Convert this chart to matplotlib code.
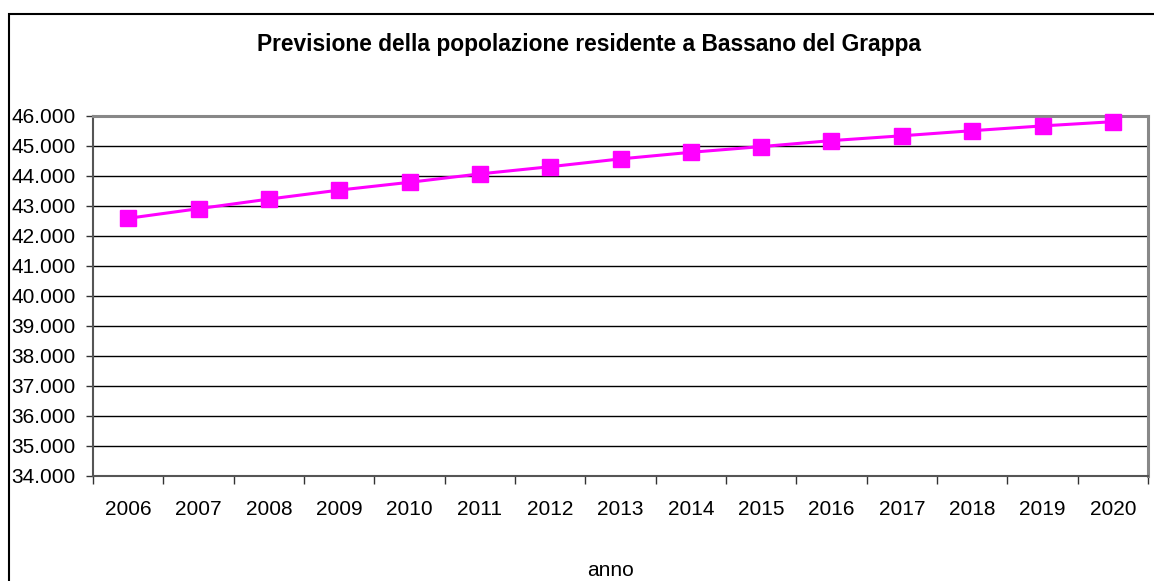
import matplotlib
matplotlib.use("Agg")
import matplotlib.pyplot as plt
from matplotlib.patches import Rectangle
from matplotlib.ticker import FuncFormatter, FixedLocator

years = ["2006", "2007", "2008", "2009", "2010", "2011", "2012", "2013",
         "2014", "2015", "2016", "2017", "2018", "2019", "2020"]
population = [42590, 42910, 43230, 43530, 43790, 44070, 44310, 44570,
              44790, 44980, 45180, 45340, 45510, 45670, 45810]
y_ticks = list(range(34000, 46001, 1000))

plt.rcParams['font.family'] = ['Liberation Sans', 'DejaVu Sans']

fig = plt.figure(figsize=(11.54, 5.81), dpi=100)
ax = fig.add_axes([93/1154, 1 - 476/581, (1148 - 93)/1154, (476 - 116)/581])

x = list(range(len(years)))
ax.plot(x, population, color='#FF00FF', linewidth=2.2, marker='s',
        markersize=11, markerfacecolor='#FF00FF', markeredgecolor='#FF00FF',
        zorder=5, clip_on=False)

ax.set_xlim(-0.5, len(years) - 0.5)
ax.set_ylim(34000, 46000)
ax.yaxis.set_major_locator(FixedLocator(y_ticks))
ax.yaxis.set_major_formatter(FuncFormatter(lambda v, p: f"{int(v):,}".replace(",", ".")))
ax.yaxis.grid(True, color='black', linewidth=1)
ax.set_axisbelow(True)

ax.set_xticks(x)
ax.set_xticklabels(years)
ax.set_xticks([i - 0.5 for i in range(len(years) + 1)], minor=True)
ax.tick_params(axis='x', which='major', length=0, pad=17, labelsize=15)
ax.tick_params(axis='x', which='minor', length=6, width=1, color='#333333', direction='out')
ax.tick_params(axis='y', which='major', length=5, width=1, color='#333333',
               labelsize=15, pad=7.5, direction='out')

for s in ['top', 'right']:
    ax.spines[s].set_color('#888888')
    ax.spines[s].set_linewidth(2.2)
for s in ['left', 'bottom']:
    ax.spines[s].set_color('#555555')
    ax.spines[s].set_linewidth(1.5)

fig.text(589/1154, 1 - 45/581, "Previsione della popolazione residente a Bassano del Grappa",
         ha='center', va='center', fontsize=16.4, fontweight='bold')
fig.text(611/1154, 1 - 570/581, "anno", ha='center', va='center', fontsize=15)

frame = Rectangle((9/1154, -0.05), 1.2, 1 - 14/581 + 0.05, transform=fig.transFigure,
                  fill=False, edgecolor='black', linewidth=1.5)
fig.patches.append(frame)

fig.savefig("out.png", dpi=100)
